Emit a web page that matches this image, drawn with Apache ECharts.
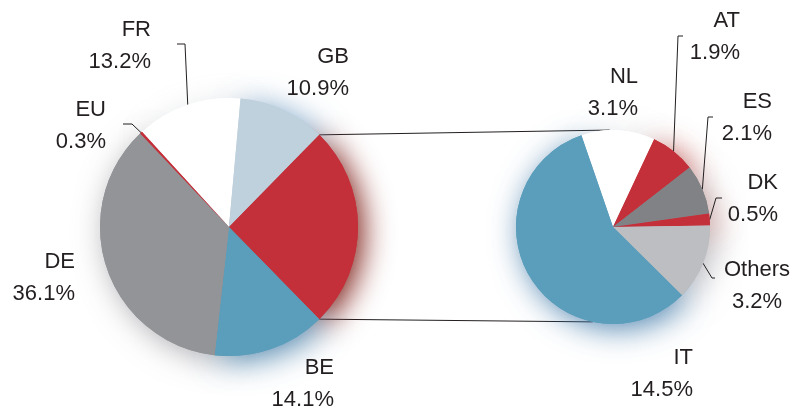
<!DOCTYPE html>
<html>
<head>
<meta charset="utf-8">
<script src="https://cdn.jsdelivr.net/npm/echarts@6/dist/echarts.min.js"></script>
<style>
  html, body { margin: 0; padding: 0; background: #ffffff; }
  #chart { width: 793px; height: 410px; }
</style>
</head>
<body>
<div id="chart"></div>
<script>
// Main pie: share by country; the unlabelled red slice is broken down in the second pie
const mainNames  = ['FR', 'GB', 'Rest', 'BE', 'DE', 'EU'];
const mainValues = [13.2, 10.9, 25.3, 14.1, 36.1, 0.3];

// Breakdown of the red slice
const subNames  = ['NL', 'AT', 'ES', 'DK', 'Others', 'IT'];
const subValues = [3.1, 1.9, 2.1, 0.5, 3.2, 14.5];

// Slice fill colours and glow colours
const fill = {
  FR: '#ffffff', GB: '#bfd1dd', Rest: '#c4303a', BE: '#5a9ebb', DE: '#929497', EU: '#c4303a',
  NL: '#ffffff', AT: '#c4303a', ES: '#808285', DK: '#c4303a', Others: '#bcbec1', IT: '#5a9ebb'
};
const glow = {
  FR: 'rgba(150,160,170,0.3)', GB: 'rgba(90,140,185,0.85)', Rest: 'rgba(125,30,22,1)',
  BE: 'rgba(55,115,160,0.85)', DE: 'rgba(90,90,100,0.5)', EU: 'rgba(150,40,30,0.5)',
  NL: 'rgba(150,160,170,0.3)', AT: 'rgba(175,45,38,0.85)', ES: 'rgba(140,100,100,0.6)',
  DK: 'rgba(185,55,45,0.85)', Others: 'rgba(130,130,140,0.55)', IT: 'rgba(55,115,165,0.85)'
};

// Pie geometry
const mainPie = { cx: 229, cy: 227, r: 129 };
const subPie  = { cx: 613, cy: 227, r: 97, startAngle: 109 };

const sum = a => a.reduce((s, v) => s + v, 0);
const mainTotal = sum(mainValues);
const restIdx = mainNames.indexOf('Rest');
// The red slice sits centred on the right-hand side of the main pie
mainPie.startAngle = (sum(mainValues.slice(0, restIdx)) + mainValues[restIdx] / 2) / mainTotal * 360;

// Label boxes (right/centre edge, top) and leader-line bends
const labelSpots = {
  FR:     { x: 151, y: 14,  align: 'right',  line: [[185, 44], [177, 44]] },
  GB:     { x: 349, y: 41,  align: 'right' },
  EU:     { x: 106, y: 94,  align: 'right',  line: [[132, 124], [123, 124]] },
  DE:     { x: 75,  y: 246, align: 'right' },
  BE:     { x: 334, y: 352, align: 'right' },
  NL:     { x: 638, y: 61,  align: 'right' },
  AT:     { x: 740, y: 5,   align: 'right',  line: [[678, 36], [683, 36]] },
  ES:     { x: 772, y: 86,  align: 'right',  line: [[708, 117], [713, 117]] },
  DK:     { x: 778, y: 167, align: 'right',  line: [[716, 198], [722, 198]] },
  Others: { x: 757, y: 254, align: 'center', line: [[712, 278], [715, 278]] },
  IT:     { x: 693, y: 342, align: 'right' }
};

const rad = d => d * Math.PI / 180;
function edgePoint(pie, deg) {
  return [pie.cx + pie.r * Math.cos(rad(deg)), pie.cy - pie.r * Math.sin(rad(deg))];
}
function midAngles(pie, values) {
  const total = sum(values);
  let acc = 0;
  return values.map(v => {
    const a = pie.startAngle - (acc + v / 2) / total * 360;
    acc += v;
    return a;
  });
}

function buildData(names, values, withGlow) {
  return names.map((n, i) => {
    const spot = labelSpots[n];
    const item = {
      name: n,
      value: values[i],
      itemStyle: { color: fill[n] }
    };
    if (withGlow) {
      item.itemStyle.shadowColor = glow[n];
    } else {
      item.label = { show: !!spot };
      item.labelLine = { show: !!(spot && spot.line) };
    }
    return item;
  });
}

const fontFamily = '"Liberation Sans", Arial, Helvetica, sans-serif';

function pieSeries(pie, names, values, withGlow) {
  const s = {
    type: 'pie',
    center: [pie.cx, pie.cy],
    radius: pie.r,
    startAngle: pie.startAngle,
    clockwise: true,
    avoidLabelOverlap: false,
    animation: false,
    silent: true,
    emphasis: { disabled: true },
    data: buildData(names, values, withGlow)
  };
  if (withGlow) {
    s.z = 1;
    s.itemStyle = { borderWidth: 0, shadowBlur: 30, shadowOffsetX: 5, shadowOffsetY: 5 };
    s.label = { show: false };
    s.labelLine = { show: false };
  } else {
    const mids = midAngles(pie, values);
    s.z = 2;
    s.itemStyle = { borderWidth: 0 };
    s.label = {
      show: true,
      position: 'outside',
      formatter: p => p.name + '\n' + p.value.toFixed(1) + '%',
      color: '#231f20',
      fontFamily: fontFamily,
      fontSize: 22,
      lineHeight: 32
    };
    s.labelLine = { show: true, lineStyle: { color: '#231f20', width: 1 } };
    s.labelLayout = function (params) {
      const spot = labelSpots[names[params.dataIndex]];
      if (!spot) return {};
      const out = { x: spot.x, y: spot.y, align: spot.align, verticalAlign: 'top', hideOverlap: false };
      if (spot.line) {
        out.labelLinePoints = [edgePoint(pie, mids[params.dataIndex]), spot.line[0], spot.line[1]];
      }
      return out;
    };
  }
  return s;
}

const seriesList = [
  pieSeries(mainPie, mainNames, mainValues, true),
  pieSeries(subPie, subNames, subValues, true),
  pieSeries(mainPie, mainNames, mainValues, false),
  pieSeries(subPie, subNames, subValues, false)
];

// Connector lines joining the red slice to its breakdown pie
const restHalf = mainValues[restIdx] / mainTotal * 180;
const topFrom = edgePoint(mainPie, restHalf);
const botFrom = edgePoint(mainPie, -restHalf);
const topTo = edgePoint(subPie, 92);
const botTo = edgePoint(subPie, -102);

const chart = echarts.init(document.getElementById('chart'), null, { renderer: 'canvas' });
chart.setOption({
  backgroundColor: '#ffffff',
  animation: false,
  series: seriesList,
  graphic: [
    {
      type: 'line', z: 0, silent: true,
      shape: { x1: topFrom[0], y1: topFrom[1], x2: topTo[0], y2: topTo[1] },
      style: { stroke: '#231f20', lineWidth: 1 }
    },
    {
      type: 'line', z: 0, silent: true,
      shape: { x1: botFrom[0], y1: botFrom[1], x2: botTo[0], y2: botTo[1] },
      style: { stroke: '#231f20', lineWidth: 1 }
    }
  ]
});
</script>
</body>
</html>
